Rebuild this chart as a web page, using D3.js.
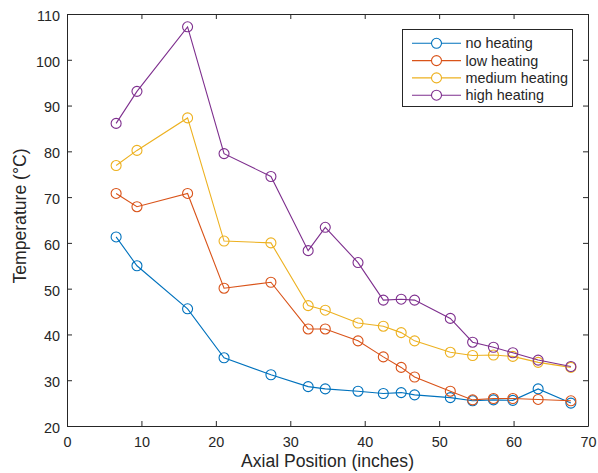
<!DOCTYPE html>
<html>
<head>
<meta charset="utf-8">
<script src="https://cdn.jsdelivr.net/npm/d3@7"></script>
<style>
  body { margin: 0; background: #fff; }
  svg text { font-family: "Liberation Sans", Arial, sans-serif; fill: #262626; }
</style>
</head>
<body>
<div class="chart"></div>
<script>
// axial positions (inches)
var positions = [6.6, 9.4, 16.2, 21.1, 27.4, 32.4, 34.7, 39.1, 42.5, 44.9, 46.7, 51.5, 54.5, 57.3, 59.9, 63.3, 67.7];

var noHeating     = [61.3, 55.0, 45.6, 34.9, 31.2, 28.6, 28.1, 27.6, 27.1, 27.3, 26.8, 26.2, 25.5, 25.7, 25.6, 28.1, 25.0];
var lowHeating    = [70.8, 67.9, 70.8, 50.1, 51.4, 41.2, 41.2, 38.6, 35.1, 32.8, 30.7, 27.6, 25.7, 26.0, 26.0, 25.8, 25.5];
var mediumHeating = [76.9, 80.2, 87.3, 60.4, 60.0, 46.3, 45.3, 42.5, 41.8, 40.4, 38.6, 36.1, 35.4, 35.5, 35.2, 33.9, 32.8];
var highHeating   = [86.1, 93.1, 107.2, 79.5, 74.5, 58.3, 63.4, 55.7, 47.5, 47.7, 47.5, 43.5, 38.3, 37.2, 36.0, 34.4, 33.0];

var seriesNames  = ["no heating", "low heating", "medium heating", "high heating"];
var seriesColors = ["#0072BD", "#D95319", "#EDB120", "#7E2F8E"];
var xTicks = [0, 10, 20, 30, 40, 50, 60, 70];
var yTicks = [20, 30, 40, 50, 60, 70, 80, 90, 100, 110];

var allSeries = [noHeating, lowHeating, mediumHeating, highHeating];

var W = 598, H = 473;
var axLeft = 67, axTop = 14, axRight = 588, axBottom = 426;

var svg = d3.select(".chart").append("svg")
    .attr("width", W)
    .attr("height", H)

var x = d3.scaleLinear().domain([0, 70]).range([axLeft, axRight]);
var y = d3.scaleLinear().domain([20, 110]).range([axBottom, axTop]);

// axes on all four sides, ticks pointing inward
var axisColor = "#262626";
function styleAxis(g) {
    g.selectAll("path").attr("stroke", axisColor).attr("stroke-width", 1);
    g.selectAll("line").attr("stroke", axisColor);
    g.selectAll("text").attr("font-size", 14.4).style("fill", axisColor)
        .style("font-family", "'Liberation Sans', Arial, sans-serif");
}

svg.append("g").attr("transform", "translate(0," + axBottom + ")")
    .call(d3.axisBottom(x).tickValues(xTicks).tickSizeInner(-5).tickSizeOuter(0).tickPadding(11))
    .call(styleAxis);
svg.append("g").attr("transform", "translate(0," + axTop + ")")
    .call(d3.axisTop(x).tickValues(xTicks).tickSizeInner(-5).tickSizeOuter(0).tickFormat(""))
    .call(styleAxis);
svg.append("g").attr("transform", "translate(" + axLeft + ",0)")
    .call(d3.axisLeft(y).tickValues(yTicks).tickSizeInner(-5).tickSizeOuter(0).tickPadding(7))
    .call(styleAxis)
    .call(function (g) { g.selectAll("text").attr("dy", "0.44em"); });
svg.append("g").attr("transform", "translate(" + axRight + ",0)")
    .call(d3.axisRight(y).tickValues(yTicks).tickSizeInner(-5).tickSizeOuter(0).tickFormat(""))
    .call(styleAxis);

// labels
svg.append("text")
    .attr("x", (axLeft + axRight) / 2)
    .attr("y", 467)
    .attr("text-anchor", "middle")
    .attr("font-size", 17.6)
    .text("Axial Position (inches)");

svg.append("text")
    .attr("transform", "translate(26,216) rotate(-90)")
    .attr("text-anchor", "middle")
    .attr("font-size", 17.6)
    .text("Temperature (\u00B0C)");

// lines + markers
var line = d3.line()
    .x(function (d, i) { return x(positions[i]); })
    .y(function (d) { return y(d); });

allSeries.forEach(function (vals, k) {
    var g = svg.append("g");
    g.append("path")
        .attr("d", line(vals))
        .attr("fill", "none")
        .attr("stroke", seriesColors[k])
        .attr("stroke-width", 1.1);
    g.selectAll("circle")
        .data(vals)
        .enter()
        .append("circle")
        .attr("cx", function (d, i) { return x(positions[i]); })
        .attr("cy", function (d) { return y(d); })
        .attr("r", 5)
        .attr("fill", "none")
        .attr("stroke", seriesColors[k])
        .attr("stroke-width", 1.1);
});

// legend
var lg = svg.append("g");
lg.append("rect")
    .attr("x", 402.5).attr("y", 29.5)
    .attr("width", 170).attr("height", 77)
    .attr("fill", "#fff")
    .attr("stroke", axisColor)
    .attr("stroke-width", 1);

seriesNames.forEach(function (name, k) {
    var ry = 43.3 + k * 17.3;
    lg.append("line")
        .attr("x1", 412).attr("x2", 461)
        .attr("y1", ry).attr("y2", ry)
        .attr("stroke", seriesColors[k])
        .attr("stroke-width", 1.1);
    lg.append("circle")
        .attr("cx", 436.5).attr("cy", ry).attr("r", 5)
        .attr("fill", "#fff")
        .attr("stroke", seriesColors[k])
        .attr("stroke-width", 1.1);
    lg.append("text")
        .attr("x", 465.5).attr("y", ry + 5)
        .attr("font-size", 14.4)
        .text(name);
});
</script>
</body>
</html>
